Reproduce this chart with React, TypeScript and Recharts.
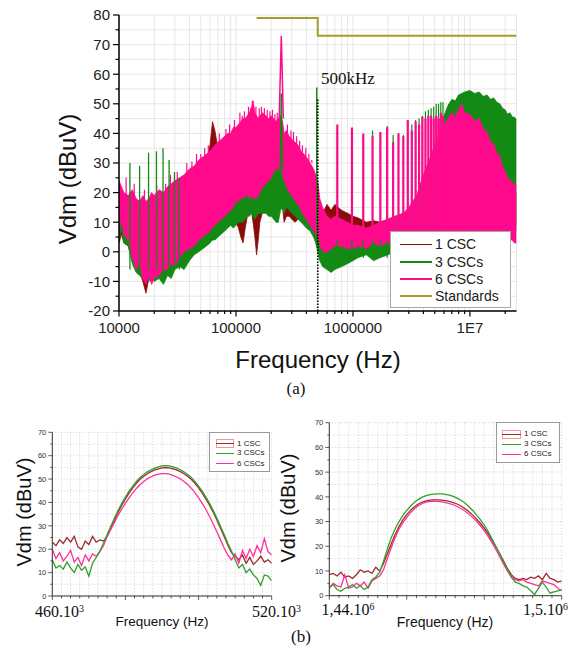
import React from 'react';
import { ComposedChart, LineChart, Line, Area, XAxis, YAxis, CartesianGrid } from 'recharts';

const SANS = '"Liberation Sans", Arial, sans-serif';
const SERIF = '"Liberation Serif", "Times New Roman", serif';

const RED = '#8B0B0B';
const GREEN = '#138A13';
const PINK = '#FF0A8C';
const OLIVE = '#A39F2D';

const RED_B = '#9E2B2B';
const GREEN_B = '#33A02C';
const PINK_B = '#FF2F9C';

// ---------------- (a) wide-band spectrum ----------------
const bandFreq = [
  10000, 10500, 11000, 12000, 13000, 14000, 15000, 16000, 17000, 18000, 19000, 20000,
  22000, 24000, 26000, 28000, 30000, 33000, 36000, 40000, 44000, 48000, 52000, 56000,
  60000, 63000, 66000, 70000, 75000, 80000, 85000, 90000, 95000, 100000,
  105000, 110000, 115000, 120000, 125000, 130000, 135000, 140000, 145000, 150000, 155000, 160000,
  170000, 180000, 190000, 200000, 210000, 220000, 230000, 240000, 250000, 258000, 270000, 285000,
  300000, 320000, 340000, 360000, 380000, 400000, 430000, 460000, 480000, 500000, 520000, 550000,
  600000, 650000, 700000, 800000, 900000, 1000000, 1100000, 1300000, 1500000, 1700000, 2000000,
  2300000, 2700000, 3000000, 3500000, 4000000, 4500000, 5000000, 5500000, 6000000, 6500000,
  7000000, 7500000, 8000000, 8500000, 9000000, 10000000, 11000000, 12000000, 13000000, 14000000,
  15000000, 16000000, 17000000, 18000000, 19000000, 20000000, 21000000, 22000000, 23000000,
  24000000, 25000000,
];
const csc6Lo = [
  5, 12, 6, 4, -2, -6, -4, -9, -11, -8, -11, -9,
  -8, -6, -6, -4, -5, -2, 0, 1, 2, 4, 5, 6,
  7, 8, 9, 10, 11, 12, 13, 14, 15, 17,
  17, 18, 18, 19, 19, 18, 19, 18, 18, 18, 19, 20,
  22, 23, 24, 25, 27, 28, 28, 28, 26, 24, 22, 20,
  19, 17, 16, 14, 12, 11, 9, 7, 6, 5, 3, 0,
  0, 1, 2, 2, 1, 1, 2, 1, 3, 2, 3,
  3, 4, 4, 5, 5, 5, 5, 5, 5, 5,
  5, 5, 5, 5, 5, 5, 5, 5, 5, 5,
  5, 5, 5, 5, 5, 5, 4, 4, 4,
  3, 3,
];
const csc6Hi = [
  24, 22, 20, 19, 21, 18, 17, 19, 17, 18, 20, 19,
  21, 20, 22, 23, 24, 25, 26, 28, 29, 31, 32, 33,
  34, 35, 36, 37, 38, 39, 40, 40, 42, 42,
  43, 44, 45, 45, 46, 47, 48, 51, 47, 46, 45, 46,
  47, 46, 45, 46, 45, 44, 45, 46, 44, 40, 41, 39,
  38, 37, 36, 34, 33, 32, 30, 28, 26, 24, 18, 15,
  12, 11, 12, 11, 10, 9, 9, 8, 9, 10, 11,
  12, 13, 15, 19, 26, 31, 36, 40, 43, 45,
  47, 45.5, 48, 50, 47, 46.5, 44, 45, 41.5, 40.5,
  37, 36.5, 33, 32.5, 28.5, 27.5, 24.5, 24.5, 22.5,
  23.5, 22,
];
const csc3Lo = [
  4, 8, 3, 2, -4, -7, -8, -9, -8, -10, -8, -10,
  -9, -11, -8, -9, -6, -5, -6, -3, -1, 0, 1, 2,
  3, 4, 4, 5, 6, 7, 8, 9, 8, 9,
  10, 10, 10, 11, 12, 12, 13, 12, 11, 12, 13, 13,
  13, 13, 12, 12, 11, 10, 10, 14, 15, 13, 15, 14,
  13, 12, 11, 10, 9, 8, 7, 5, 3, 0, -3, -5,
  -6, -7, -6, -5, -4, -3, -2, -1, -3, -2, -1,
  0, 1, 2, 3, 4, 5, 6, 6, 6, 7,
  7, 7, 7, 7, 7, 7, 7, 7, 7, 7,
  7, 7, 7, 7, 7, 7, 7, 7, 7,
  7, 7,
];
const csc3Hi = [
  20, 18, 17, 16, 18, 15, 16, 14, 15, 14, 16, 15,
  16, 17, 16, 17, 16, 18, 17, 18, 19, 19, 20, 21,
  22, 22, 23, 24, 23, 24, 25, 25, 26, 27,
  29, 30, 31, 32, 31, 33, 34, 33, 31, 30, 29, 27,
  26, 27, 29, 30, 31, 29, 30, 31, 30, 28, 27, 26,
  24, 23, 24, 23, 22, 22, 21, 19, 17, 15, 10, 6,
  4, 3, 4, 4, 5, 4, 5, 4, 5, 5, 6,
  7, 8, 9, 12, 16, 22, 30, 38, 46, 49.5,
  51.5, 51, 53, 53.5, 54, 54.5, 53.5, 54, 52.5, 53,
  51.5, 52, 50.5, 50, 48.5, 48, 46.5, 47, 45.5,
  45.5, 44.5,
];
const csc1Lo = [
  3, 6, 3, 2, -3, -6, -7, -10, -14, -9, -10, -9,
  -8, -7, -6, -5, -5, -3, -1, 1, 3, 4, 6, 8,
  10, 12, 14, 13, 12, 14, 15, 15, 12, 10,
  8, 5, 3, 8, 12, 14, 14, 10, 5, -1, 4, 10,
  14, 15, 15, 17, 18, 19, 18, 16, 15, 10, 12, 12,
  11, 10, 11, 12, 10, 9, 8, 7, 6, 5, 4, 3,
  4, 3, 4, 5, 4, 3, 4, 3, 4, 4, 5,
  5, 6, 6, 7, 8, 9, 10, 10, 10, 10,
  10, 10, 10, 10, 10, 10, 10, 10, 10, 10,
  10, 10, 10, 10, 10, 10, 9, 9, 9,
  9, 9,
];
const csc1Hi = [
  22, 20, 17, 16, 15, 14, 15, 13, 12, 13, 14, 14,
  15, 15, 16, 17, 18, 20, 22, 23, 25, 27, 28, 30,
  36, 44, 41, 35, 33, 34, 35, 36, 35, 34,
  32, 31, 30, 30, 31, 32, 33, 32, 30, 28, 27, 27,
  27, 29, 31, 33, 34, 33, 32, 33, 30, 26, 24, 22,
  22, 21, 22, 20, 19, 19, 18, 17, 16, 15, 14, 13,
  16, 14, 16, 14, 13, 12, 11.5, 10, 10.5, 10, 11,
  12, 13, 14, 16, 20, 25, 30, 34, 38, 40,
  41, 42, 42, 42, 41, 42, 40, 39, 38, 37,
  35, 33, 31, 29, 27, 25, 23, 22, 21,
  20, 20,
];

// noise peaks of the 6 CSCs trace rising out of its band
const noise6LowFreq = [11500, 13500, 16500, 21000, 25000, 27500, 31500, 38000, 42000, 46000, 50000, 54000, 58000];
const noise6LowTop = [25, 23, 21, 22.5, 23, 26, 27, 30, 30.5, 33, 33, 35, 36];
const noise6LowFloor = 12;
const noise6MidFreq = [
  72000, 82000, 88000, 97000, 108000, 113000, 118000, 128000, 133000, 138000, 148000, 158000, 165000, 175000,
  185000, 195000, 205000, 215000, 225000, 275000, 295000, 310000, 330000, 350000, 370000, 395000, 420000, 445000,
];
const noise6MidTop = [
  40, 41.5, 43, 44.5, 47, 46, 47.5, 49, 48.5, 51, 49, 48.5, 49, 48.5,
  48, 47.5, 48, 46.5, 47, 43, 41, 40.5, 39, 37.5, 36, 35, 33, 31,
];
const noise6MidFloor = 30;

// switching harmonics (spectral lines) above 700 kHz
const harmFreq = [
  735000, 980000, 1225000, 1470000, 1715000, 1960000, 2205000, 2450000, 2695000, 2940000, 3185000,
  3430000, 3675000, 3920000, 4165000, 4410000, 4655000, 4900000, 5145000, 5390000, 5635000, 5880000,
];
const harm6Top = [43, 42, 40, 39, 40.5, 42, 37, 40, 39, 44.5, 41, 44, 43, 45.5, 45, 46, 46, 45, 46, 45, 47, 46];
const harm3Top = [42, 41.5, 39.5, 41, 40, 42.5, 39.5, 40, 39.5, 44, 43, 44.5, 45, 46, 47.5, 48, 48.5, 49, 50, 50, 50.5, 50.5];
const harm6Floor = 4;
const harm3Floor = -2;

// low-frequency lines of the 3 CSCs trace
const lowLineFreq = [12400, 15000, 17900, 20900, 23800, 26800, 29800, 32800];
const lowLine3Top = [30, 29, 33.5, 34, 35, 31, 27, 25];
const lowLine3Floor = -6;

// line at 500 kHz (3 CSCs)
const line500Freq = [490000];
const line500Top = [55.5];
const line500Floor = 5;

// fundamental peak
const peak6Freq = [234000, 244000, 254000];
const peak6Level = [45, 73, 45];
const peak3Freq = [239000, 244000, 249000];
const peak3Level = [27, 53.5, 27];

// EMC standard limit
const standardFreq = [150000, 500000, 500000, 25000000];
const standardLevel = [79, 79, 73, 73];

// 500 kHz marker
const markerFreq = [500000, 500000];
const markerLevel = [-20, 52];

const topXTicks = [
  10000, 20000, 30000, 40000, 50000, 60000, 70000, 80000, 90000,
  100000, 200000, 300000, 400000, 500000, 600000, 700000, 800000, 900000,
  1000000, 2000000, 3000000, 4000000, 5000000, 6000000, 7000000, 8000000, 9000000,
  10000000, 20000000,
];
const topXLabelValues = [10000, 100000, 1000000, 10000000];
const topXLabelTexts = ['10000', '100000', '1000000', '1E7'];
const topYTicks = [-20, -15, -10, -5, 0, 5, 10, 15, 20, 25, 30, 35, 40, 45, 50, 55, 60, 65, 70, 75, 80];

const topSeriesNames = ['1 CSC', '3 CSCs', '6 CSCs', 'Standards'];
const topSeriesColors = [RED, GREEN, PINK, OLIVE];

// ---------------- (b) zooms around 490 kHz and 1.47 MHz ----------------
const leftFreq = [
  460, 461, 462, 463, 464, 465, 466, 467, 468, 469, 470, 471, 472, 473, 474, 475, 476, 477, 478, 479,
  480, 481, 482, 483, 484, 485, 486, 487, 488, 489, 490, 491, 492, 493, 494, 495, 496, 497, 498, 499,
  500, 501, 502, 503, 504, 505, 506, 507, 508, 509, 510, 511, 512, 513, 514, 515, 516, 517, 518, 519, 520,
];
const left1 = [
  23, 21.5, 24, 22.5, 25, 23, 25.5, 21, 20, 23.5, 22, 25.5, 23, 24, 23.5, 25.5, 29, 32.5, 35.8, 38.8,
  41.5, 44, 46.2, 48.2, 49.9, 51.2, 52.3, 53.2, 53.9, 54.4, 54.8, 54.9, 54.8, 54.4, 53.9, 53.2, 52.3, 51.2, 49.9, 48.2,
  46.2, 44, 41.5, 38.8, 35.8, 32.5, 29, 25.5, 21.8, 18.5, 17, 15.5, 17.5, 14, 16.5, 13.5, 15, 17, 14.5, 15.5, 14,
];
const left3 = [
  15.5, 12, 13, 11.5, 14.5, 12, 10, 13.5, 11, 12.5, 8.5, 14, 16.5, 19.2, 22.6, 26.3, 29.8, 33.3, 36.6, 39.6,
  42.3, 44.8, 47, 49, 50.7, 52, 53.1, 54, 54.7, 55.2, 55.6, 55.7, 55.6, 55.2, 54.7, 54, 53.1, 52, 50.7, 49,
  47, 44.8, 42.3, 39.6, 36.6, 33.3, 29.8, 26.3, 22.6, 19.2, 15.5, 12, 13.5, 10, 11.5, 9, 7.5, 4.5, 9, 8.5, 6.5,
];
const left6 = [
  20, 16, 18.5, 15, 17, 19.5, 14.5, 16.5, 13, 17.5, 15, 18, 17, 19, 21.5, 25.5, 28.5, 31.5, 34.5, 37.2,
  39.7, 42, 44.1, 46, 47.6, 49, 50.1, 51, 51.7, 52.1, 52.3, 52.3, 52.1, 51.6, 50.9, 50.1, 49, 47.7, 46.1, 44.2,
  42, 39.6, 37, 34, 30.8, 27.5, 24, 20.5, 17.5, 15.5, 18, 14, 19.5, 16, 20, 17, 21.5, 18.5, 24.5, 19, 17.5,
];
const leftXTicks = [
  460, 462.5, 465, 467.5, 470, 472.5, 475, 477.5, 480, 482.5, 485, 487.5, 490,
  492.5, 495, 497.5, 500, 502.5, 505, 507.5, 510, 512.5, 515, 517.5, 520,
];
const leftXMajor = [460, 480, 500, 520];

const rightFreq = [
  1440, 1441, 1442, 1443, 1444, 1445, 1446, 1447, 1448, 1449, 1450, 1451, 1452, 1453, 1454, 1455, 1456, 1457, 1458, 1459,
  1460, 1461, 1462, 1463, 1464, 1465, 1466, 1467, 1468, 1469, 1470, 1471, 1472, 1473, 1474, 1475, 1476, 1477, 1478, 1479,
  1480, 1481, 1482, 1483, 1484, 1485, 1486, 1487, 1488, 1489, 1490, 1491, 1492, 1493, 1494, 1495, 1496, 1497, 1498, 1499, 1500,
];
const right1 = [
  8.5, 9, 8, 9.5, 7.5, 8, 7, 8.5, 10.5, 9.5, 10, 9, 11.5, 10, 13, 17, 21, 24.8, 28, 30.7,
  32.8, 34.6, 36, 37.1, 37.9, 38.4, 38.7, 38.8, 38.8, 38.7, 38.5, 38.2, 37.7, 37.1, 36.3, 35.3, 34.1, 32.7, 31.1, 29.3,
  27.3, 25, 22.5, 19.8, 17, 14, 11, 8.5, 7, 6.5, 7, 6.5, 7.5, 7, 8, 6.5, 9, 7, 6.5, 5.5, 6,
];
const right3 = [
  3.5, 4.5, 2.5, 1.8, 3, 3.5, 4.5, 3, 4, 2.5, 3.5, 6.5, 7.5, 9.5, 14, 19, 23.5, 27, 30, 32.5,
  34.5, 36.3, 37.8, 39, 39.9, 40.5, 40.9, 41.1, 41.2, 41.2, 41, 40.7, 40.2, 39.5, 38.6, 37.5, 36.1, 34.5, 32.7, 30.8,
  28.6, 26, 23, 20, 17, 13.5, 10.5, 7.5, 5.5, 5, 4, 3.5, 2, 0.5, 3, 5.5, 3.5, 1, 1.5, 2, 2.5,
];
const right6 = [
  3, 5, 4, 3.5, 8.5, 3, 3.5, 5, 4, 5.5, 3, 6, 7, 8, 10.5, 15, 19.5, 23.5, 27, 29.5,
  31.7, 33.6, 35.2, 36.4, 37.3, 37.9, 38.2, 38.3, 38.2, 38, 37.7, 37.3, 36.8, 36.1, 35.3, 34.3, 33.1, 31.7, 30.1, 28.3,
  26.3, 24, 21.5, 18.7, 15.8, 12.8, 10, 7.5, 6.5, 6, 6.5, 5.5, 5, 4.5, 4, 6, 5.5, 5, 4.5, 3, 2,
];
const rightXTicks = [
  1440, 1442.5, 1445, 1447.5, 1450, 1452.5, 1455, 1457.5, 1460, 1462.5, 1465, 1467.5, 1470,
  1472.5, 1475, 1477.5, 1480, 1482.5, 1485, 1487.5, 1490, 1492.5, 1495, 1497.5, 1500,
];
const rightXMajor = [1440, 1460, 1480, 1500];

const zoomYTicks = [0, 5, 10, 15, 20, 25, 30, 35, 40, 45, 50, 55, 60, 65, 70];
const zoomSeriesNames = ['1 CSC', '3 CSCs', '6 CSCs'];
const zoomSeriesColors = [RED_B, GREEN_B, PINK_B];

// ---------------- derived tables ----------------
const topRows = bandFreq.map((f, i) => ({
  f,
  r1: [csc1Lo[i], csc1Hi[i]],
  r3: [csc3Lo[i], csc3Hi[i]],
  r6: [csc6Lo[i], csc6Hi[i]],
}));

function spikeRows(freqs: number[], tops: number[], floor: number) {
  return freqs.flatMap((f, i) => [
    { f, v: floor },
    { f, v: tops[i] },
    { f, v: floor },
    { f, v: null },
  ]);
}
const pairRows = (freqs: number[], levels: number[]) => freqs.map((f, i) => ({ f, v: levels[i] }));

const harm6Rows = spikeRows(harmFreq, harm6Top, harm6Floor);
const harm3Rows = spikeRows(harmFreq, harm3Top, harm3Floor);
const low3Rows = spikeRows(lowLineFreq, lowLine3Top, lowLine3Floor);
const noise6LowRows = spikeRows(noise6LowFreq, noise6LowTop, noise6LowFloor);
const noise6MidRows = spikeRows(noise6MidFreq, noise6MidTop, noise6MidFloor);
const line500Rows = spikeRows(line500Freq, line500Top, line500Floor);
const peak6Rows = pairRows(peak6Freq, peak6Level);
const peak3Rows = pairRows(peak3Freq, peak3Level);
const standardRows = pairRows(standardFreq, standardLevel);
const markerRows = pairRows(markerFreq, markerLevel);

const leftRows = leftFreq.map((f, i) => ({ f, a: left1[i], b: left3[i], c: left6[i] }));
const rightRows = rightFreq.map((f, i) => ({ f, a: right1[i], b: right3[i], c: right6[i] }));

// ---------------- tick renderers ----------------
function TopXTick(props: any) {
  const { x, y, payload } = props;
  const axisY = y - 6;
  const idx = topXLabelValues.indexOf(payload.value);
  const major = idx >= 0;
  return (
    <g>
      <line x1={x} x2={x} y1={axisY} y2={axisY + (major ? 5.5 : 3)} stroke="#000" strokeWidth={1.2} />
      {major && (
        <text x={x} y={axisY + 22} textAnchor="middle" fontSize={15} fill="#222" fontFamily={SANS}>
          {topXLabelTexts[idx]}
        </text>
      )}
    </g>
  );
}

function TopYTick(props: any) {
  const { x, y, payload } = props;
  const axisX = x + 6;
  const major = payload.value % 10 === 0;
  return (
    <g>
      <line x1={axisX} x2={axisX - (major ? 6 : 3.5)} y1={y} y2={y} stroke="#000" strokeWidth={1.2} />
      {major && (
        <text x={axisX - 9} y={y + 5.3} textAnchor="end" fontSize={15} fill="#222" fontFamily={SANS}>
          {payload.value}
        </text>
      )}
    </g>
  );
}

function makeZoomXTick(majors: number[]) {
  return function ZoomXTick(props: any) {
    const { x, y, payload } = props;
    const axisY = y - 4;
    const major = majors.indexOf(payload.value) >= 0;
    return <line x1={x} x2={x} y1={axisY} y2={axisY + (major ? 4 : 2.5)} stroke="#333" strokeWidth={0.8} />;
  };
}

function ZoomYTick(props: any) {
  const { x, y, payload } = props;
  const axisX = x + 4;
  const major = payload.value % 10 === 0;
  return (
    <g>
      <line x1={axisX} x2={axisX - (major ? 4 : 2)} y1={y} y2={y} stroke="#333" strokeWidth={0.8} />
      {major && (
        <text x={axisX - 6} y={y + 2.7} textAnchor="end" fontSize={7.5} fill="#333" fontFamily={SANS}>
          {payload.value}
        </text>
      )}
    </g>
  );
}

// ---------------- helpers for text ----------------
function Txt(props: { x: number; y: number; size: number; serif?: boolean; anchor?: 'start' | 'middle'; rotate?: boolean; children: React.ReactNode }) {
  const { x, y, size, serif, anchor = 'middle', rotate, children } = props;
  const tx = anchor === 'middle' ? '-50%' : '0';
  return (
    <div
      style={{
        position: 'absolute',
        left: x,
        top: y,
        fontSize: size,
        lineHeight: 1,
        whiteSpace: 'nowrap',
        fontFamily: serif ? SERIF : SANS,
        color: '#111',
        transform: `translate(${tx}, -50%)${rotate ? ' rotate(-90deg)' : ''}`,
        transformOrigin: rotate ? 'center center' : undefined,
      }}
    >
      {children}
    </div>
  );
}

function ZoomLegend(props: { left: number; top: number; width: number; height: number; rowY: number[]; symX: number; symW: number; textX: number }) {
  const { left, top, width, height, rowY, symX, symW, textX } = props;
  return (
    <div style={{ position: 'absolute', left, top, width, height, border: '1px solid #9a9a9a', background: '#fff', boxSizing: 'border-box' }}>
      {zoomSeriesNames.map((name, i) => (
        <React.Fragment key={name}>
          {i === 0 && (
            <div style={{ position: 'absolute', left: symX, top: rowY[i] - 4.5, width: symW, height: 9, border: '1px solid #f29a9a', boxSizing: 'border-box' }} />
          )}
          <div style={{ position: 'absolute', left: symX, top: rowY[i] - 0.7, width: symW, height: 1.4, background: zoomSeriesColors[i] }} />
          <div style={{ position: 'absolute', left: textX, top: rowY[i], transform: 'translateY(-50%)', fontSize: 8, lineHeight: 1, fontFamily: SANS, color: '#222', whiteSpace: 'nowrap' }}>
            {name}
          </div>
        </React.Fragment>
      ))}
    </div>
  );
}

const LeftXTick = makeZoomXTick(leftXMajor);
const RightXTick = makeZoomXTick(rightXMajor);

export default function App() {
  return (
    <div style={{ position: 'absolute', left: 0, top: 0, width: 579, height: 648, background: '#fff', overflow: 'hidden', fontFamily: SANS }}>
      {/* ---------- (a) ---------- */}
      <div style={{ position: 'absolute', left: 0, top: 0 }}>
        <ComposedChart width={579} height={340} data={topRows} margin={{ top: 15, right: 62.5, bottom: 0, left: 0 }}>
          <CartesianGrid stroke="#e6e6e6" strokeWidth={1} />
          <XAxis
            dataKey="f"
            type="number"
            scale="log"
            domain={[10000, 25000000]}
            allowDataOverflow
            ticks={topXTicks}
            interval={0}
            tick={TopXTick}
            tickLine={false}
            tickSize={6}
            tickMargin={0}
            height={29}
            axisLine={{ stroke: '#000', strokeWidth: 1.5 }}
          />
          <YAxis
            type="number"
            domain={[-20, 80]}
            allowDataOverflow
            ticks={topYTicks}
            interval={0}
            tick={TopYTick}
            tickLine={false}
            tickSize={6}
            tickMargin={0}
            width={119}
            axisLine={{ stroke: '#000', strokeWidth: 1.5 }}
          />
          <Area dataKey="r1" type="linear" stroke={RED} strokeWidth={0.8} fill={RED} fillOpacity={1} isAnimationActive={false} dot={false} activeDot={false} />
          <Area dataKey="r3" type="linear" stroke={GREEN} strokeWidth={0.8} fill={GREEN} fillOpacity={1} isAnimationActive={false} dot={false} activeDot={false} />
          <Area dataKey="r6" type="linear" stroke={PINK} strokeWidth={0.8} fill={PINK} fillOpacity={1} isAnimationActive={false} dot={false} activeDot={false} />
          <Line data={noise6LowRows} dataKey="v" stroke={PINK} strokeWidth={1.2} dot={false} activeDot={false} isAnimationActive={false} />
          <Line data={noise6MidRows} dataKey="v" stroke={PINK} strokeWidth={1.2} dot={false} activeDot={false} isAnimationActive={false} />
          <Line data={low3Rows} dataKey="v" stroke={GREEN} strokeWidth={1.3} dot={false} activeDot={false} isAnimationActive={false} />
          <Line data={harm3Rows} dataKey="v" stroke={GREEN} strokeWidth={1.2} dot={false} activeDot={false} isAnimationActive={false} />
          <Line data={harm6Rows} dataKey="v" stroke={PINK} strokeWidth={2.2} dot={false} activeDot={false} isAnimationActive={false} />
          <Line data={line500Rows} dataKey="v" stroke={GREEN} strokeWidth={1.5} dot={false} activeDot={false} isAnimationActive={false} />
          <Line data={peak3Rows} dataKey="v" stroke={GREEN} strokeWidth={1.5} dot={false} activeDot={false} isAnimationActive={false} />
          <Line data={peak6Rows} dataKey="v" stroke={PINK} strokeWidth={1.5} dot={false} activeDot={false} isAnimationActive={false} />
          <Line data={standardRows} dataKey="v" stroke={OLIVE} strokeWidth={2} dot={false} activeDot={false} isAnimationActive={false} />
          <Line data={markerRows} dataKey="v" stroke="#000" strokeWidth={1.6} strokeDasharray="1.5 1.5" dot={false} activeDot={false} isAnimationActive={false} />
        </ComposedChart>
      </div>

      {/* legend (a) */}
      <div style={{ position: 'absolute', left: 390, top: 231, width: 121, height: 77, border: '1px solid #a8a8a8', background: '#fff', boxSizing: 'border-box' }}>
        {topSeriesNames.map((name, i) => (
          <React.Fragment key={name}>
            <div style={{ position: 'absolute', left: 9, top: 11.5 + i * 17.3, width: 32, height: 1.8, background: topSeriesColors[i] }} />
            <div style={{ position: 'absolute', left: 44, top: 12.3 + i * 17.3, transform: 'translateY(-50%)', fontSize: 14, lineHeight: 1, fontFamily: SANS, color: '#222', whiteSpace: 'nowrap' }}>
              {name}
            </div>
          </React.Fragment>
        ))}
      </div>

      <Txt x={321} y={78} size={17} serif anchor="start">500kHz</Txt>
      <Txt x={68} y={179} size={24} rotate>Vdm (dBuV)</Txt>
      <Txt x={318} y={360} size={24}>Frequency (Hz)</Txt>
      <Txt x={296} y={388} size={17} serif>(a)</Txt>

      {/* ---------- (b) left ---------- */}
      <div style={{ position: 'absolute', left: 0, top: 420 }}>
        <LineChart width={290} height={228} data={leftRows} margin={{ top: 12.3, right: 18.3, bottom: 32, left: 0 }}>
          <CartesianGrid stroke="#c4c4c4" strokeDasharray="1 2" strokeWidth={0.8} />
          <XAxis
            dataKey="f"
            type="number"
            domain={[460, 520]}
            allowDataOverflow
            ticks={leftXTicks}
            interval={0}
            tick={LeftXTick}
            tickLine={false}
            tickSize={4}
            tickMargin={0}
            height={20}
            axisLine={{ stroke: '#333', strokeWidth: 1 }}
          />
          <YAxis
            type="number"
            domain={[0, 70]}
            allowDataOverflow
            ticks={zoomYTicks}
            interval={0}
            tick={ZoomYTick}
            tickLine={false}
            tickSize={4}
            tickMargin={0}
            width={52.3}
            axisLine={{ stroke: '#333', strokeWidth: 1 }}
          />
          <Line dataKey="a" stroke={RED_B} strokeWidth={1.3} dot={false} activeDot={false} isAnimationActive={false} />
          <Line dataKey="c" stroke={PINK_B} strokeWidth={1.3} dot={false} activeDot={false} isAnimationActive={false} />
          <Line dataKey="b" stroke={GREEN_B} strokeWidth={1.3} dot={false} activeDot={false} isAnimationActive={false} />
        </LineChart>
      </div>
      <ZoomLegend left={209} top={432} width={61} height={40} rowY={[10.7, 20.3, 30.7]} symX={6} symW={18} textX={27} />
      <Txt x={24} y={512} size={20} rotate>Vdm (dBuV)</Txt>
      <Txt x={35} y={611.5} size={16} serif anchor="start">460.10<span style={{ fontSize: '0.62em', verticalAlign: '0.55em' }}>3</span></Txt>
      <Txt x={252} y={611.5} size={16} serif anchor="start">520.10<span style={{ fontSize: '0.62em', verticalAlign: '0.55em' }}>3</span></Txt>
      <Txt x={162} y={622} size={13.5}>Frequency (Hz)</Txt>

      {/* ---------- (b) right ---------- */}
      <div style={{ position: 'absolute', left: 290, top: 410 }}>
        <LineChart width={289} height={238} data={rightRows} margin={{ top: 12.7, right: 17.3, bottom: 32.3, left: 0 }}>
          <CartesianGrid stroke="#c4c4c4" strokeDasharray="1 2" strokeWidth={0.8} />
          <XAxis
            dataKey="f"
            type="number"
            domain={[1440, 1500]}
            allowDataOverflow
            ticks={rightXTicks}
            interval={0}
            tick={RightXTick}
            tickLine={false}
            tickSize={4}
            tickMargin={0}
            height={20}
            axisLine={{ stroke: '#333', strokeWidth: 1 }}
          />
          <YAxis
            type="number"
            domain={[0, 70]}
            allowDataOverflow
            ticks={zoomYTicks}
            interval={0}
            tick={ZoomYTick}
            tickLine={false}
            tickSize={4}
            tickMargin={0}
            width={39.3}
            axisLine={{ stroke: '#333', strokeWidth: 1 }}
          />
          <Line dataKey="a" stroke={RED_B} strokeWidth={1.3} dot={false} activeDot={false} isAnimationActive={false} />
          <Line dataKey="c" stroke={PINK_B} strokeWidth={1.3} dot={false} activeDot={false} isAnimationActive={false} />
          <Line dataKey="b" stroke={GREEN_B} strokeWidth={1.3} dot={false} activeDot={false} isAnimationActive={false} />
        </LineChart>
      </div>
      <ZoomLegend left={496} top={422} width={64} height={41} rowY={[11.3, 21.3, 31.3]} symX={5} symW={19} textX={27} />
      <Txt x={288} y={508} size={20} rotate>Vdm (dBuV)</Txt>
      <Txt x={321.5} y={610} size={16} serif anchor="start">1,44.10<span style={{ fontSize: '0.62em', verticalAlign: '0.55em' }}>6</span></Txt>
      <Txt x={523} y={610} size={16} serif anchor="start">1,5.10<span style={{ fontSize: '0.62em', verticalAlign: '0.55em' }}>6</span></Txt>
      <Txt x={445} y={622} size={14}>Frequency (Hz)</Txt>
      <Txt x={301} y={636} size={17} serif>(b)</Txt>
    </div>
  );
}
